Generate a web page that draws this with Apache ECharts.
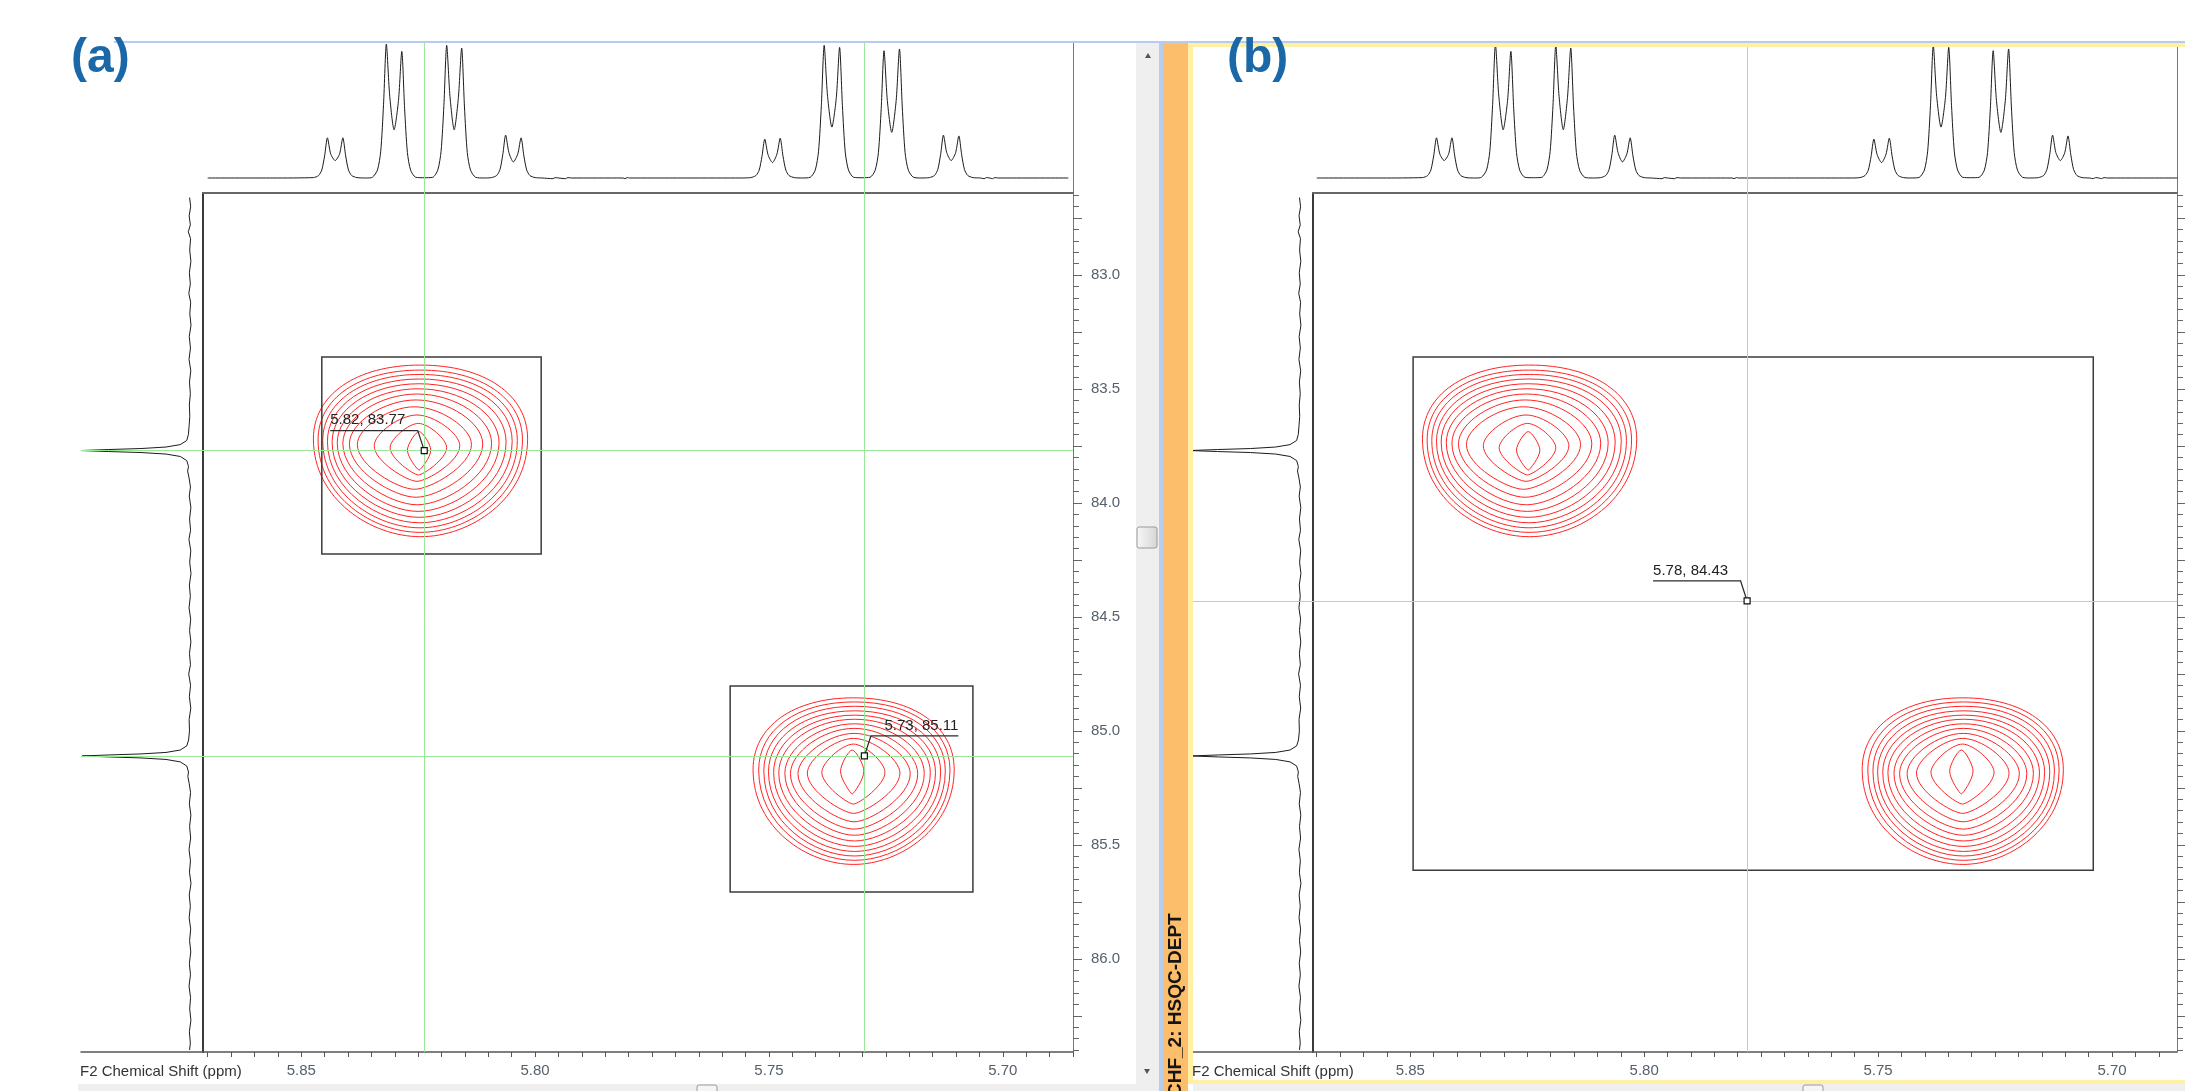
<!DOCTYPE html>
<html>
<head>
<meta charset="utf-8">
<title>HSQC-DEPT</title>
<script src="https://cdn.jsdelivr.net/npm/echarts@6/dist/echarts.min.js"></script>
<style>
  html, body { margin: 0; padding: 0; background: #fff; }
  #chart { width: 2185px; height: 1091px; }
</style>
</head>
<body>
<div id="chart"></div>
<script>
// tick labels of the two shift axes
const f2TickLabels = [5.85, 5.80, 5.75, 5.70];
const f1TickLabels = [83.0, 83.5, 84.0, 84.5, 85.0, 85.5, 86.0];

// 1H projection on top: [ppm, intensity]
const topTrace = [
  [5.8700, 0], [5.8560, 0],
  [5.8474, 0.3], [5.8463, 1.8], [5.8456, 6], [5.8450, 16.5], [5.8444, 30], [5.8437, 18], [5.84275, 13], [5.8418, 18], [5.8411, 30], [5.8405, 16.5], [5.8399, 6], [5.8392, 1.8], [5.8381, 0.3],
  [5.8360, 0],
  [5.8348, 0.5], [5.8337, 6], [5.8330, 20], [5.8324, 55], [5.8318, 100], [5.8311, 62], [5.83015, 36], [5.8292, 58], [5.8285, 94.5], [5.8279, 52], [5.8273, 19], [5.8266, 5.7], [5.8255, 0.5],
  [5.8237, 0.2],
  [5.8219, 0.5], [5.8208, 6], [5.8201, 20], [5.8195, 54], [5.8189, 99], [5.8182, 61], [5.8173, 36], [5.8164, 60], [5.8157, 97], [5.8151, 53], [5.8145, 19], [5.8138, 5.8], [5.8127, 0.5],
  [5.8110, 0],
  [5.8093, 0.3], [5.8082, 1.9], [5.8075, 6.4], [5.8069, 17.6], [5.8063, 32], [5.8056, 19], [5.80465, 12], [5.8037, 18], [5.8030, 30], [5.8024, 16.5], [5.8018, 6], [5.8011, 1.8], [5.8000, 0.3],
  [5.7985, 0], [5.7962, -0.5], [5.7957, 0.3], [5.7950, 0], [5.7935, -0.5], [5.7930, 0.3], [5.7922, 0],
  [5.7812, 0], [5.7808, -0.5], [5.7803, 0.3], [5.7798, 0],
  [5.7560, 0],
  [5.7539, 0.3], [5.7528, 1.8], [5.7521, 5.8], [5.7515, 16], [5.7509, 29], [5.7502, 17.4], [5.74925, 11.5], [5.7483, 17.8], [5.7476, 29.7], [5.7470, 16.3], [5.7464, 6], [5.7457, 1.8], [5.7446, 0.3],
  [5.7430, 0],
  [5.7412, 0.5], [5.7401, 6], [5.7394, 20], [5.7388, 54], [5.7382, 99], [5.7375, 62], [5.73655, 38], [5.7356, 60], [5.7349, 97.5], [5.7343, 54], [5.7337, 19.5], [5.7330, 5.9], [5.7319, 0.5],
  [5.7301, 0.2],
  [5.7284, 0.5], [5.7273, 5.7], [5.7266, 19], [5.7260, 52], [5.7254, 95], [5.7247, 58], [5.72375, 34], [5.7228, 58], [5.7221, 96.3], [5.7215, 53], [5.7209, 19], [5.7202, 5.8], [5.7191, 0.5],
  [5.7175, 0],
  [5.7157, 0.3], [5.7146, 1.9], [5.7139, 6.4], [5.7133, 17.6], [5.7127, 32], [5.7120, 19], [5.71105, 13], [5.7101, 18.8], [5.7094, 31.4], [5.7088, 17.3], [5.7082, 6.3], [5.7075, 1.9], [5.7064, 0.3],
  [5.7048, 0], [5.7040, -0.5], [5.7035, 0.3], [5.7028, 0], [5.7022, -0.5], [5.7017, 0.3], [5.7010, 0],
  [5.6860, 0]
];

// 13C projection on the left: [intensity, ppm]
const sideTrace = [
  [0.4, 82.66], [-0.6, 82.70], [0.8, 82.74], [-0.3, 82.78], [1.6, 82.81], [-0.5, 82.84], [0.3, 82.89], [-0.8, 82.94],
  [0.6, 82.99], [-0.3, 83.04], [1.1, 83.08], [-0.6, 83.12], [0.2, 83.17], [-0.9, 83.22], [0.7, 83.27], [-0.4, 83.32],
  [0.9, 83.37], [-0.7, 83.42], [0.5, 83.47], [-0.3, 83.52], [0.6, 83.57], [0.2, 83.62], [0.8, 83.66],
  [1.5, 83.70], [3, 83.726], [9, 83.744], [22, 83.7546], [45, 83.7612], [75, 83.7656], [100, 83.77],
  [75, 83.7744], [45, 83.7788], [22, 83.7854], [9, 83.796], [3, 83.814], [1.4, 83.84], [2.2, 83.86], [0.9, 83.89],
  [-0.4, 83.93], [0.7, 83.97], [-0.8, 84.02], [0.4, 84.07], [-0.5, 84.12], [1.0, 84.16], [-0.7, 84.21], [0.3, 84.26],
  [-0.9, 84.31], [0.6, 84.36], [-0.3, 84.41], [0.9, 84.46], [-0.6, 84.51], [0.4, 84.56], [-0.8, 84.61], [0.5, 84.66],
  [-0.4, 84.71], [1.2, 84.75], [-0.5, 84.80], [0.6, 84.85], [-0.7, 84.90], [0.8, 84.95], [0.5, 85.00],
  [1.3, 85.04], [3, 85.066], [9, 85.084], [22, 85.0946], [45, 85.1012], [74, 85.1056], [99, 85.11],
  [74, 85.1144], [45, 85.1188], [22, 85.1254], [9, 85.136], [3, 85.154], [1.4, 85.18], [2.0, 85.20], [0.8, 85.23],
  [-0.5, 85.27], [0.6, 85.32], [-0.8, 85.37], [0.4, 85.42], [-0.6, 85.47], [0.9, 85.52], [-0.4, 85.57], [0.5, 85.62],
  [-0.9, 85.67], [0.7, 85.72], [-0.3, 85.77], [0.8, 85.82], [-0.6, 85.87], [0.4, 85.92], [-0.7, 85.97], [0.6, 86.02],
  [-0.4, 86.07], [0.9, 86.12], [-0.5, 86.17], [0.3, 86.22], [-0.8, 86.27], [0.6, 86.32], [-0.3, 86.37], [0.4, 86.40]
];

// contour rings of the two cross peaks, outer to inner: [left ppm, right ppm, top ppm, bottom ppm]
const peak1Rings = [
  [5.8474, 5.8016, 83.395, 84.148],
  [5.8464, 5.8027, 83.417, 84.129],
  [5.8454, 5.8038, 83.436, 84.109],
  [5.8444, 5.8049, 83.456, 84.087],
  [5.8434, 5.8062, 83.477, 84.063],
  [5.8423, 5.8077, 83.499, 84.037],
  [5.8411, 5.8093, 83.522, 84.008],
  [5.8397, 5.8112, 83.548, 83.975],
  [5.8380, 5.8136, 83.578, 83.940],
  [5.8344, 5.8161, 83.614, 83.905],
  [5.8310, 5.8189, 83.651, 83.877],
  [5.8273, 5.8223, 83.687, 83.856]
];
const peak2Rings = [
  [5.7534, 5.7104, 84.855, 85.586],
  [5.7522, 5.7113, 84.873, 85.568],
  [5.7511, 5.7123, 84.892, 85.549],
  [5.7501, 5.7133, 84.912, 85.529],
  [5.7490, 5.7144, 84.931, 85.507],
  [5.7479, 5.7155, 84.949, 85.483],
  [5.7466, 5.7168, 84.969, 85.458],
  [5.7454, 5.7182, 84.989, 85.431],
  [5.7438, 5.7198, 85.011, 85.399],
  [5.7418, 5.7220, 85.033, 85.362],
  [5.7387, 5.7252, 85.058, 85.321],
  [5.7347, 5.7297, 85.084, 85.277]
];

// integration boxes: [left ppm, right ppm, top ppm, bottom ppm]
const boxesA = [[5.8456, 5.7987, 83.360, 84.224], [5.7583, 5.7064, 84.803, 85.707]];
const boxesB = [[5.8494, 5.7040, 83.360, 85.611]];

// cursor positions: [F2 ppm, F1 ppm]
const cursorsA = [[5.8237, 83.77], [5.7296, 85.11]];
const cursorsB = [[5.778, 84.43]];

// ---------- layout ----------
const TOP = 42, PLOT_TOP = 193, PLOT_BOTTOM = 1052;
const F1_MIN = 82.64, F1_MAX = 86.409;
const panels = [
  { x0: 203, x1: 1073, side: 81, f2Min: 5.685, f2Max: 5.871, boxes: boxesA, cursors: cursorsA, leaders: [-1, 1] },
  { x0: 1313, x1: 2177, side: 1190, f2Min: 5.6861, f2Max: 5.8708, boxes: boxesB, cursors: cursorsB, leaders: [-1] }
];

const f2Ticks = [];
for (let k = 1137; k <= 1174; k++) f2Ticks.push(+(k * 0.005).toFixed(3));
const f1Minor = [];
for (let k = 1653; k <= 1728; k++) f1Minor.push(+(k * 0.05).toFixed(2));
const f1Major = [];
for (let k = 331; k <= 345; k++) f1Major.push(+(k * 0.25).toFixed(2));

const FONT = '"Liberation Sans", Arial, sans-serif';
const LABEL_COLOR = '#56606c';
const CURSOR_COLOR = '#98e898';

const ringData = [peak1Rings, peak2Rings].flatMap(rings =>
  rings.map((r, i) => r.concat([i / (rings.length - 1)])));

// one contour ring: rounded egg, outer rings near-elliptic, inner ones hexagon-like
function ringItem(params, api) {
  const a = api.coord([api.value(0), api.value(2)]);
  const b = api.coord([api.value(1), api.value(3)]);
  const x1 = Math.min(a[0], b[0]), x2 = Math.max(a[0], b[0]);
  const y1 = Math.min(a[1], b[1]), y2 = Math.max(a[1], b[1]);
  const t = Math.pow(api.value(4), 2);
  const xc = (x1 + x2) / 2;
  const yw = y1 + (0.43 + 0.05 * t) * (y2 - y1);
  const ka = 0.6 - 0.3 * t, kb = 0.62 - 0.27 * t, kc = 0.46 - 0.34 * t;
  const hr = x2 - xc, hl = xc - x1;
  const d = [
    'M', xc, y1,
    'C', xc + ka * hr, y1, x2, yw - ka * (yw - y1), x2, yw,
    'C', x2, yw + kb * (y2 - yw), xc + kc * hr, y2, xc, y2,
    'C', xc - kc * hl, y2, x1, yw + kb * (y2 - yw), x1, yw,
    'C', x1, yw - ka * (yw - y1), xc - ka * hl, y1, xc, y1, 'Z'
  ].join(' ');
  return { type: 'path', shape: { pathData: d }, style: { stroke: '#ff2424', lineWidth: 1, fill: 'none' } };
}

function boxItem(params, api) {
  const a = api.coord([api.value(0), api.value(2)]);
  const b = api.coord([api.value(1), api.value(3)]);
  return {
    type: 'rect',
    shape: { x: Math.min(a[0], b[0]), y: Math.min(a[1], b[1]), width: Math.abs(b[0] - a[0]), height: Math.abs(b[1] - a[1]) },
    style: { stroke: '#3c3c3c', lineWidth: 1.5, fill: 'none' }
  };
}

function labelItem(params, api) {
  const p = api.coord([api.value(0), api.value(1)]);
  const dir = api.value(2);
  const cx = p[0] + dir * 6.5, cy = p[1] - 20, ex = p[0] + dir * 94;
  const txt = api.value(0).toFixed(2) + ', ' + api.value(1).toFixed(2);
  return {
    type: 'group',
    children: [
      { type: 'polyline', shape: { points: [[p[0], p[1]], [cx, cy], [ex, cy]] }, style: { stroke: '#2a2a2a', lineWidth: 1.2, fill: 'none' } },
      { type: 'rect', shape: { x: p[0] - 3, y: p[1] - 3, width: 6, height: 6 }, style: { stroke: '#111', lineWidth: 1.2, fill: '#fff' } },
      { type: 'text', x: ex, y: cy - 3, style: { text: txt, font: '15px ' + FONT, fill: '#222', align: dir < 0 ? 'left' : 'right', verticalAlign: 'bottom' } }
    ]
  };
}

const grid = [], xAxis = [], yAxis = [], series = [];
const hidden = { axisLine: { show: false }, axisTick: { show: false }, axisLabel: { show: false }, splitLine: { show: false } };

panels.forEach(p => {
  const g = grid.length;
  grid.push({ left: p.x0, top: TOP, width: p.x1 - p.x0, height: PLOT_TOP - TOP, outerBoundsMode: 'none' });
  grid.push({ left: p.side, top: PLOT_TOP, width: p.x0 - p.side, height: PLOT_BOTTOM - PLOT_TOP, outerBoundsMode: 'none' });
  grid.push({ left: p.x0, top: PLOT_TOP, width: p.x1 - p.x0, height: PLOT_BOTTOM - PLOT_TOP, outerBoundsMode: 'none' });

  const xi = xAxis.length, yi = yAxis.length;
  // top projection
  xAxis.push(Object.assign({}, hidden, {
    gridIndex: g, type: 'value', min: p.f2Min, max: p.f2Max, inverse: true, position: 'bottom',
    axisLine: { show: true, onZero: false, lineStyle: { color: '#666', width: 2 } }
  }));
  // side projection
  xAxis.push(Object.assign({}, hidden, {
    gridIndex: g + 1, type: 'value', min: -11.9, max: 100, inverse: true, position: 'bottom',
    axisLine: { show: true, onZero: false, lineStyle: { color: '#555', width: 1.5 } }
  }));
  // 2D F2 axis
  xAxis.push({
    gridIndex: g + 2, type: 'value', min: p.f2Min, max: p.f2Max, inverse: true, position: 'bottom',
    axisLine: { show: true, onZero: false, lineStyle: { color: '#555', width: 1.5 } },
    axisTick: { show: true, customValues: f2Ticks, length: 5, lineStyle: { color: '#555' } },
    axisLabel: { customValues: f2TickLabels, formatter: v => v.toFixed(2), margin: 11, fontSize: 15, fontFamily: FONT, color: LABEL_COLOR, hideOverlap: false },
    splitLine: { show: false }
  });

  yAxis.push(Object.assign({}, hidden, {
    gridIndex: g, type: 'value', min: -11.2, max: 101.5, position: 'right',
    axisLine: { show: true, onZero: false, lineStyle: { color: '#777', width: 1 } }
  }));
  yAxis.push(Object.assign({}, hidden, { gridIndex: g + 1, type: 'value', min: F1_MIN, max: F1_MAX, inverse: true }));
  yAxis.push({
    gridIndex: g + 2, type: 'value', min: F1_MIN, max: F1_MAX, inverse: true, position: 'right',
    axisLine: { show: true, onZero: false, lineStyle: { color: '#777', width: 1 } },
    axisTick: { show: true, customValues: f1Major, length: 9, lineStyle: { color: '#666' } },
    axisLabel: { customValues: f1TickLabels, formatter: v => v.toFixed(1), margin: 18, fontSize: 15, fontFamily: FONT, color: LABEL_COLOR, hideOverlap: false },
    splitLine: { show: false }
  });
  yAxis.push(Object.assign({}, hidden, {
    gridIndex: g + 2, type: 'value', min: F1_MIN, max: F1_MAX, inverse: true, position: 'right',
    axisTick: { show: true, customValues: f1Minor, length: 6, lineStyle: { color: '#666' } }
  }));
  yAxis.push(Object.assign({}, hidden, {
    gridIndex: g + 2, type: 'value', min: F1_MIN, max: F1_MAX, inverse: true, position: 'left',
    axisLine: { show: true, onZero: false, lineStyle: { color: '#3a3a3a', width: 2 } }
  }));

  const cursorLine = data => ({
    silent: true, symbol: 'none', precision: 6, label: { show: false },
    lineStyle: { color: CURSOR_COLOR, width: 1, type: 'solid' }, data: data
  });

  series.push({
    type: 'line', xAxisIndex: xi, yAxisIndex: yi, data: topTrace, showSymbol: false, smooth: 0.25,
    lineStyle: { color: '#1c1c1c', width: 1 }, silent: true, z: 3,
    markLine: cursorLine(p.cursors.map(c => ({ xAxis: c[0] })))
  });
  series.push({
    type: 'line', xAxisIndex: xi + 1, yAxisIndex: yi + 1, data: sideTrace, showSymbol: false,
    lineStyle: { color: '#1c1c1c', width: 1 }, silent: true, z: 3,
    markLine: cursorLine(p.cursors.map(c => ({ yAxis: c[1] })))
  });
  series.push({
    type: 'scatter', xAxisIndex: xi + 2, yAxisIndex: yi + 2, data: p.cursors, symbolSize: 0, silent: true, z: 1,
    markLine: cursorLine(p.cursors.map(c => ({ xAxis: c[0] })).concat(p.cursors.map(c => ({ yAxis: c[1] }))))
  });
  series.push({
    type: 'custom', xAxisIndex: xi + 2, yAxisIndex: yi + 2, data: ringData, renderItem: ringItem, silent: true, z: 2
  });
  series.push({
    type: 'custom', xAxisIndex: xi + 2, yAxisIndex: yi + 2, data: p.boxes, renderItem: boxItem, silent: true, z: 3
  });
  series.push({
    type: 'custom', xAxisIndex: xi + 2, yAxisIndex: yi + 2,
    data: p.cursors.map((c, i) => [c[0], c[1], p.leaders[i]]), renderItem: labelItem, silent: true, z: 5
  });
});

const thumbFill = new echarts.graphic.LinearGradient(0, 0, 1, 0, [
  { offset: 0, color: '#f7f7f7' }, { offset: 1, color: '#d6d6d6' }
]);

const graphic = [
  { type: 'rect', z: 50, shape: { x: 114, y: 41, width: 2071, height: 2 }, style: { fill: '#b8cbed' } },
  { type: 'rect', z: 50, shape: { x: 1136, y: 43, width: 23, height: 1048 }, style: { fill: '#efefef' } },
  { type: 'rect', z: 50, shape: { x: 1159, y: 43, width: 4, height: 1048 }, style: { fill: '#b6cdf2' } },
  { type: 'rect', z: 50, shape: { x: 1163, y: 43, width: 25, height: 1048 }, style: { fill: '#fdbe6b' } },
  { type: 'rect', z: 50, shape: { x: 1188, y: 43, width: 5, height: 1041 }, style: { fill: '#fff0a6' } },
  { type: 'rect', z: 50, shape: { x: 1188, y: 43, width: 997, height: 4 }, style: { fill: '#fff0a6' } },
  { type: 'rect', z: 50, shape: { x: 1188, y: 1080, width: 997, height: 4 }, style: { fill: '#fff0a6' } },
  { type: 'rect', z: 50, shape: { x: 78, y: 1084, width: 1058, height: 7 }, style: { fill: '#efefef' } },
  { type: 'rect', z: 50, shape: { x: 1193, y: 1084, width: 992, height: 7 }, style: { fill: '#efefef' } },
  { type: 'rect', z: 51, shape: { x: 697, y: 1085, width: 20, height: 10, r: 2 }, style: { fill: '#f5f5f5', stroke: '#9a9a9a', lineWidth: 1 } },
  { type: 'rect', z: 51, shape: { x: 1803, y: 1085, width: 20, height: 10, r: 2 }, style: { fill: '#f5f5f5', stroke: '#9a9a9a', lineWidth: 1 } },
  { type: 'rect', z: 51, shape: { x: 1137, y: 527, width: 20, height: 21, r: 2 }, style: { fill: thumbFill, stroke: '#9a9a9a', lineWidth: 1 } },
  { type: 'polygon', z: 51, shape: { points: [[1145, 58], [1151, 58], [1148, 53]] }, style: { fill: '#555' } },
  { type: 'polygon', z: 51, shape: { points: [[1144, 1069], [1150, 1069], [1147, 1074]] }, style: { fill: '#555' } },
  { type: 'text', z: 52, x: 1176, y: 1097, rotation: Math.PI / 2,
    style: { text: 'CHF_2: HSQC-DEPT', font: 'bold 19px ' + FONT, fill: '#151515', align: 'left', verticalAlign: 'middle' } },
  { type: 'text', z: 52, x: 71, y: 59, style: { text: '(a)', font: 'bold 48px ' + FONT, fill: '#1b68a9', align: 'left', verticalAlign: 'middle' } },
  { type: 'text', z: 52, x: 1227, y: 59, style: { text: '(b)', font: 'bold 48px ' + FONT, fill: '#1b68a9', align: 'left', verticalAlign: 'middle' } },
  { type: 'text', z: 52, x: 80, y: 1072, style: { text: 'F2 Chemical Shift (ppm)', font: '15px ' + FONT, fill: '#333', align: 'left', verticalAlign: 'middle' } },
  { type: 'text', z: 52, x: 1192, y: 1072, style: { text: 'F2 Chemical Shift (ppm)', font: '15px ' + FONT, fill: '#333', align: 'left', verticalAlign: 'middle' } }
];

const chart = echarts.init(document.getElementById('chart'));
chart.setOption({
  animation: false,
  backgroundColor: '#ffffff',
  grid: grid,
  xAxis: xAxis,
  yAxis: yAxis,
  series: series,
  graphic: graphic
});
</script>
</body>
</html>
